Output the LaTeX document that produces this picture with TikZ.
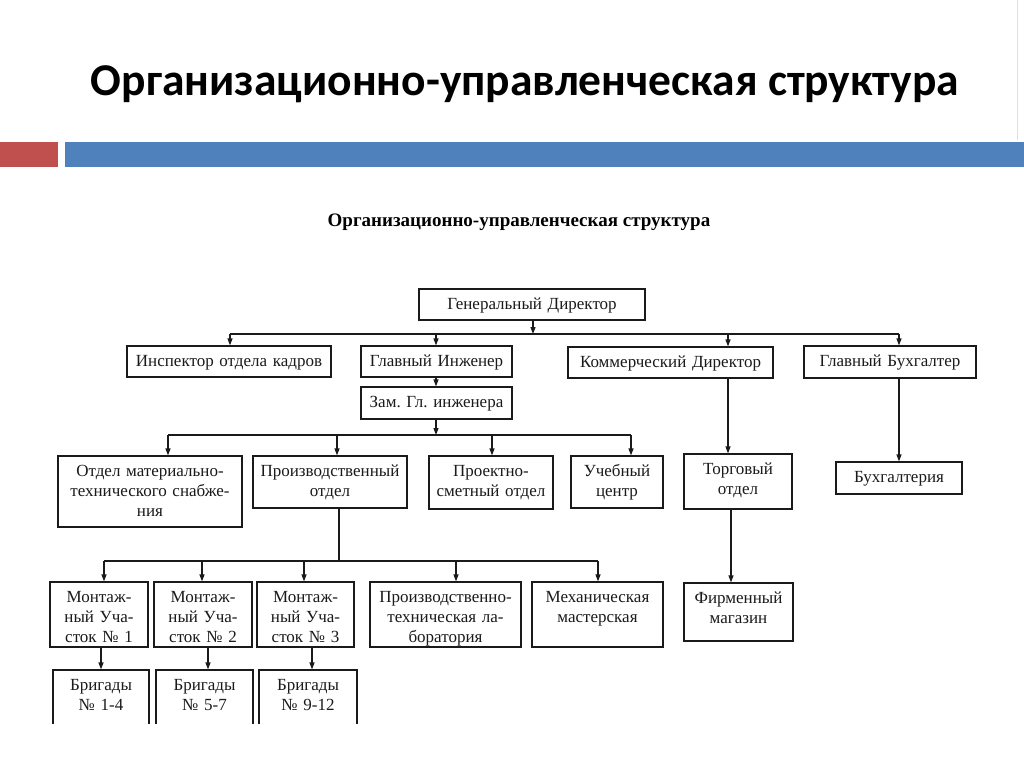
\documentclass[tikz,border=0pt]{standalone}
\usepackage{fontspec}
\setmainfont{Liberation Serif}
\newfontfamily\titlefont{Carlito}
\usetikzlibrary{arrows.meta}
\definecolor{barred}{HTML}{C0504D}
\definecolor{barblue}{HTML}{4F81BD}
\definecolor{ink}{HTML}{1A1A1A}
\frenchspacing
\tikzset{
  box/.style={draw=ink, line width=1.2pt, inner sep=0pt, rectangle},
  txt/.style={inner sep=0pt, align=center, font=\fontsize{17}{20}\selectfont, text=ink},
  wire/.style={draw=ink, line width=1.2pt},
  arr/.style={draw=ink, line width=1.2pt, -{Triangle[length=7pt,width=5pt]}},
}
\newcommand{\ob}[6]{%
  \pgfmathsetmacro{\obw}{(#4)-(#2)}%
  \pgfmathsetmacro{\obh}{(#5)-(#3)}%
  \pgfmathsetmacro{\obcx}{((#2)+(#4))/2}%
  \pgfmathsetmacro{\obcy}{((#3)+(#5))/2}%
  \pgfmathsetmacro{\obty}{(#3)+20.5}%
  \pgfmathsetmacro{\obtw}{\obw-2}%
  \node[box, minimum width=\obw pt, minimum height=\obh pt] (#1) at (\obcx,\obcy) {};
  \node[txt, text width=\obtw pt, anchor=base] (#1-t) at (\obcx,\obty) {#6};
}
\begin{document}
\begin{tikzpicture}[x=1pt,y=-1pt]
\useasboundingbox (0,0) rectangle (1024,767);
\fill[white] (0,0) rectangle (1024,767);
% header
\draw[black!12, line width=0.6pt] (1017,0) -- (1017,140);
\node[anchor=base, font=\titlefont\bfseries\fontsize{45.5}{50}\selectfont, inner sep=0pt] (title) at (525,96) {Организационно-управленческая структура};
\fill[barred] (0,142) rectangle (58,167);
\fill[barblue] (65,142) rectangle (1024,167);
\node[anchor=base, font=\bfseries\fontsize{19}{22}\selectfont, inner sep=0pt] (sub) at (519,226) {Организационно-управленческая структура};

% boxes
\ob{gd}{419}{289}{645}{320}{Генеральный Директор}
\ob{insp}{127}{346}{331}{377}{Инспектор отдела кадров}
\ob{gi}{361}{346}{512}{377}{Главный Инженер}
\ob{komm}{568}{347}{773}{378}{Коммерческий Директор}
\ob{gb}{804}{346}{976}{378}{Главный Бухгалтер}
\ob{zam}{361}{387}{512}{419}{Зам. Гл. инженера}
\ob{mts}{58}{456}{242}{527}{Отдел материально-\\технического снабже-\\ния}
\ob{pro}{253}{456}{407}{508}{Производственный\\отдел}
\ob{psm}{429}{456}{553}{509}{Проектно-\\сметный отдел}
\ob{uc}{571}{456}{663}{508}{Учебный\\центр}
\ob{torg}{684}{454}{792}{509}{Торговый\\отдел}
\ob{buhg}{836}{462}{962}{494}{Бухгалтерия}
\ob{m1}{50}{582}{148}{647}{Монтаж-\\ный Уча-\\сток № 1}
\ob{m2}{154}{582}{252}{647}{Монтаж-\\ный Уча-\\сток № 2}
\ob{m3}{257}{582}{354}{647}{Монтаж-\\ный Уча-\\сток № 3}
\ob{ptl}{370}{582}{521}{647}{Производственно-\\техническая ла-\\боратория}
\ob{mex}{532}{582}{663}{647}{Механическая\\мастерская}
\ob{firm}{684}{583}{793}{641}{Фирменный\\магазин}
\begin{scope}
\clip (0,0) rectangle (1024,723);
\ob{br1}{53}{670}{149}{740}{Бригады\\№ 1-4}
\ob{br2}{156}{670}{253}{740}{Бригады\\№ 5-7}
\ob{br3}{259}{670}{357}{740}{Бригады\\№ 9-12}
\end{scope}

% bus coordinates
\coordinate (tg) at (533,334);
\coordinate (t1) at (230,334);
\coordinate (t2) at (436,334);
\coordinate (t3) at (728,334);
\coordinate (t4) at (899,334);
\coordinate (zg) at (436,435);
\coordinate (s1) at (168,435);
\coordinate (s2) at (337,435);
\coordinate (s3) at (492,435);
\coordinate (s4) at (631,435);
\coordinate (pg) at (339,561);
\coordinate (u1) at (104,561);
\coordinate (u2) at (202,561);
\coordinate (u3) at (304,561);
\coordinate (u4) at (456,561);
\coordinate (u5) at (598,561);
\coordinate (fx) at (731,0);
\coordinate (bx1) at (101,0);
\coordinate (bx2) at (208,0);
\coordinate (bx3) at (312,0);

% connectors
\draw[wire] (t1) -- (t4);
\draw[arr] (gd.south -| tg) -- (tg);
\draw[arr] (t1) -- (insp.north -| t1);
\draw[arr] (t2) -- (gi.north -| t2);
\draw[arr] (t3) -- (komm.north -| t3);
\draw[arr] (t4) -- (gb.north -| t4);
\draw[arr] (gi.south -| t2) -- (zam.north -| t2);
\draw[arr] (komm.south -| t3) -- (torg.north -| t3);
\draw[arr] (gb.south -| t4) -- (buhg.north -| t4);

\draw[wire] (s1) -- (s4);
\draw[arr] (zam.south -| zg) -- (zg);
\draw[arr] (s1) -- (mts.north -| s1);
\draw[arr] (s2) -- (pro.north -| s2);
\draw[arr] (s3) -- (psm.north -| s3);
\draw[arr] (s4) -- (uc.north -| s4);

\draw[wire] (u1) -- (u5);
\draw[wire] (pro.south -| pg) -- (pg);
\draw[arr] (u1) -- (m1.north -| u1);
\draw[arr] (u2) -- (m2.north -| u2);
\draw[arr] (u3) -- (m3.north -| u3);
\draw[arr] (u4) -- (ptl.north -| u4);
\draw[arr] (u5) -- (mex.north -| u5);

\draw[arr] (torg.south -| fx) -- (firm.north -| fx);
\draw[arr] (m1.south -| bx1) -- (br1.north -| bx1);
\draw[arr] (m2.south -| bx2) -- (br2.north -| bx2);
\draw[arr] (m3.south -| bx3) -- (br3.north -| bx3);
\end{tikzpicture}
\end{document}
